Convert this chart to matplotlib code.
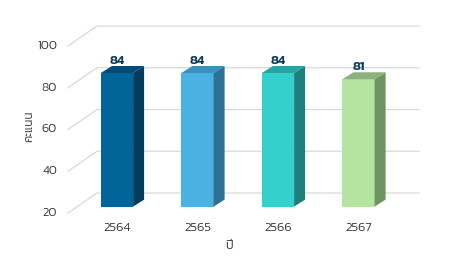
import matplotlib
matplotlib.use('Agg')
import matplotlib.pyplot as plt
from matplotlib.patches import Polygon

# ---- data ----
years = ['2564', '2565', '2566', '2567']
scores = [84, 84, 84, 81]
yticks = [20, 40, 60, 80, 100]
y_label = 'คะแนน'
x_label = 'ปี'

front_colors = ['#02659A', '#4AB2E2', '#33D0CE', '#B4E4A0']
side_colors = ['#023D5E', '#2D7196', '#1F7F7C', '#6E9463']
top_colors = ['#034B75', '#3990BF', '#27A3A0', '#8BB27C']

plt.rcParams['font.family'] = ['Kanit', 'DejaVu Sans']

DPI = 100
fig = plt.figure(figsize=(4.5, 2.7), dpi=DPI)
L, B, W, H = 68, 57, 322, 167
ax = fig.add_axes([L / 450, B / 270, W / 450, H / 270])
ax.set_xlim(-0.5, 3.5)
ax.set_ylim(20, 100)
ax.axis('off')

px = W / 4.0          # pixels per x unit
py = H / 80.0         # pixels per y unit

def dxd(p):
    return p / px

def dyd(p):
    return p / py

# back wall grid
wall_dx, wall_dy = dxd(29), dyd(20)
for v in yticks:
    ax.plot([-0.5, -0.5 + wall_dx, 3.5 + wall_dx], [v, v + wall_dy, v + wall_dy],
            color='#d9d9d9', lw=0.9, clip_on=False, zorder=1)

# bars
fx, fy = dxd(8.75), dyd(6.4)
ddx, ddy = dxd(11), dyd(7)
w = 0.4
tick_color = '#3a3a3a'
for i, (v, fc, sc, tc) in enumerate(zip(scores, front_colors, side_colors, top_colors)):
    xc = i + fx
    b = 20 + fy
    t = v + fy
    ax.bar(xc, v - 20, bottom=b, width=w, color=fc, zorder=3, clip_on=False)
    xr = xc + w / 2
    xl = xc - w / 2
    ax.add_patch(Polygon([(xr, b), (xr + ddx, b + ddy), (xr + ddx, t + ddy), (xr, t)],
                         closed=True, facecolor=sc, edgecolor='none', zorder=3, clip_on=False))
    ax.add_patch(Polygon([(xl, t), (xr, t), (xr + ddx, t + ddy), (xl + ddx, t + ddy)],
                         closed=True, facecolor=tc, edgecolor='none', zorder=3, clip_on=False))
    ax.text(xc, t + ddy + dyd(5.5), str(v), ha='center', va='center', fontsize=9.5,
            fontweight=600, color='#0E3A5C', clip_on=False, zorder=4)
    ax.text(xc, 20 - dyd(15), years[i], ha='center', va='center', fontsize=9.3,
            fontweight=300, color=tick_color, clip_on=False)

for v in yticks:
    ax.text(-0.5 - dxd(11), v, str(v), ha='right', va='center', fontsize=9,
            fontweight=300, color=tick_color, clip_on=False)

ax.text(0.5, -0.2, x_label, transform=ax.transAxes, ha='center', va='center',
        fontsize=9, fontweight=300, color=tick_color)
ax.text(-0.121, 0.518, y_label, transform=ax.transAxes, ha='center', va='center',
        rotation=90, fontsize=8.5, fontweight=300, color=tick_color)

fig.savefig('out.png', dpi=DPI)
